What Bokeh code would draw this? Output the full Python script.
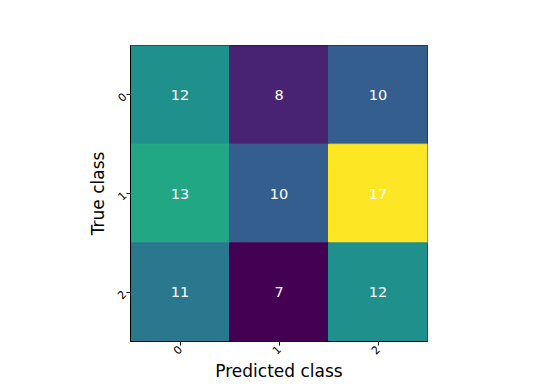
import math
from bokeh.plotting import figure
from bokeh.models import ColumnDataSource, LinearColorMapper, FixedTicker
from bokeh.palettes import Viridis256
from bokeh.transform import transform
from bokeh.core.properties import value
from bokeh.embed import file_html
from bokeh.resources import INLINE

classes = ["0", "1", "2"]
matrix = [
    [12, 8, 10],
    [13, 10, 17],
    [11, 7, 12],
]

xs, ys, vals, labels = [], [], [], []
for i, row in enumerate(matrix):
    for j, v in enumerate(row):
        xs.append(j)
        ys.append(i)
        vals.append(v)
        labels.append(str(v))

src = ColumnDataSource(dict(x=xs, y=ys, v=vals, t=labels))
flat = [v for r in matrix for v in r]
mapper = LinearColorMapper(palette=Viridis256, low=min(flat), high=max(flat))

p = figure(width=544, height=384, output_backend="svg", toolbar_location=None,
           x_range=(-0.5, 2.5), y_range=(2.5, -0.5),
           min_border_left=130, min_border_right=117, min_border_top=45, min_border_bottom=43)
p.rect(x="x", y="y", width=1, height=1, source=src,
       fill_color=transform("v", mapper), line_color=transform("v", mapper), line_width=1)
p.text(x="x", y="y", text="t", source=src, text_color="white",
       text_align="center", text_baseline="middle",
       text_font=value("DejaVu Sans"), text_font_size="14.5px")

p.grid.visible = False
p.outline_line_color = "black"
p.outline_line_width = 1
for ax in (p.xaxis, p.yaxis):
    ax.ticker = FixedTicker(ticks=[0, 1, 2])
    ax.major_label_overrides = {0: classes[0], 1: classes[1], 2: classes[2]}
    ax.major_label_orientation = math.pi / 4
    ax.major_label_text_font = "DejaVu Sans"
    ax.major_label_text_font_size = "11px"
    ax.major_label_text_color = "black"
    ax.axis_label_text_font = "DejaVu Sans"
    ax.axis_label_text_font_size = "17px"
    ax.axis_label_text_font_style = "normal"
    ax.axis_label_text_color = "black"
    ax.minor_tick_line_color = None
    ax.major_tick_in = 0
    ax.major_tick_out = 4
    ax.major_tick_line_color = "black"
    ax.axis_line_color = "black"
    ax.major_label_standoff = 2
    ax.axis_label_standoff = 0
p.yaxis.axis_label_standoff = 3
p.xaxis.axis_label = "Predicted class"
p.yaxis.axis_label = "True class"

open("out.html", "w").write(file_html(p, INLINE))
